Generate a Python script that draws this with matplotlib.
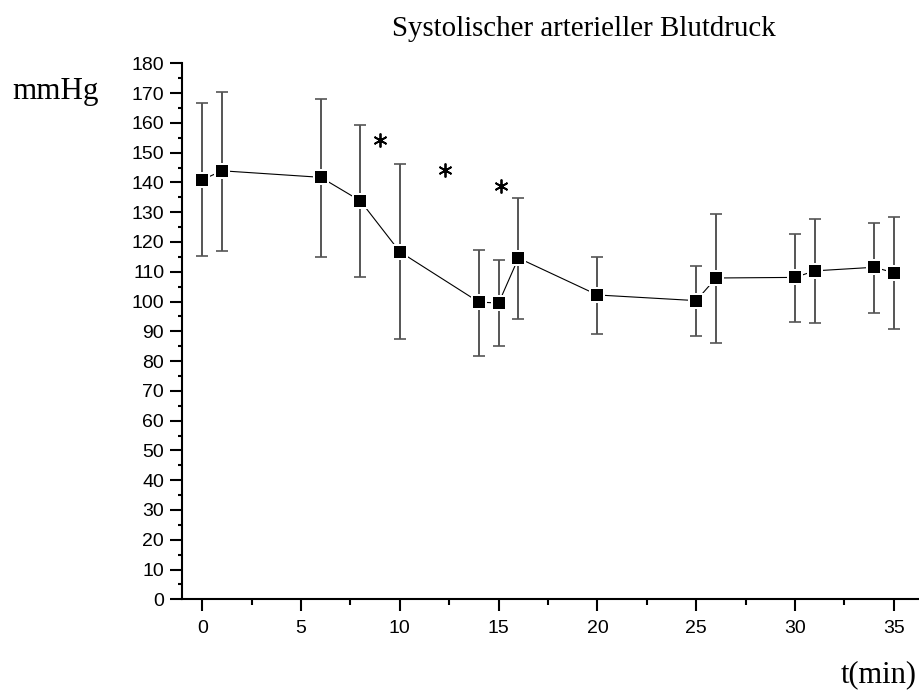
import matplotlib
matplotlib.use('Agg')
import matplotlib.pyplot as plt
from matplotlib.ticker import MultipleLocator

# Systolic arterial blood pressure over time (mean +/- SD)
t_min = [0, 1, 6, 8, 10, 14, 15, 16, 20, 25, 26, 30, 31, 34, 35]
mean_mmhg = [140.9, 143.9, 141.7, 133.8, 116.7, 99.8, 99.5, 114.6,
             102.2, 100.3, 107.9, 108.1, 110.3, 111.5, 109.7]
upper_mmhg = [166.6, 170.4, 168.1, 159.3, 146.3, 117.4, 113.8, 134.7,
              114.9, 111.9, 129.4, 122.7, 127.6, 126.5, 128.3]
lower_mmhg = [115.2, 117.0, 115.0, 108.1, 87.4, 81.7, 85.0, 94.1,
              89.1, 88.4, 86.2, 93.0, 92.8, 96.2, 90.7]

# significance marks
star_t = [9.0, 12.3, 15.1]
star_y = [154.2, 144.2, 138.9]

err_lo = [m - l for m, l in zip(mean_mmhg, lower_mmhg)]
err_hi = [u - m for u, m in zip(upper_mmhg, mean_mmhg)]

fig = plt.figure(figsize=(9.19, 6.9), dpi=100)
ax = fig.add_axes([0.1984, 0.1314, 0.800, 0.7769])

ax.errorbar(t_min, mean_mmhg, yerr=[err_lo, err_hi], fmt='none',
            ecolor='#555555', elinewidth=1.4, capsize=4.3, capthick=1.2,
            zorder=2)
ax.plot(t_min, mean_mmhg, color='black', lw=0.8, zorder=3)
ax.plot(t_min, mean_mmhg, 's', color='white', ms=11, mew=0, zorder=4)
ax.plot(t_min, mean_mmhg, 's', color='black', ms=8.3, mew=0, zorder=5)
ax.plot(star_t, star_y, ls='none', marker=(6, 2, 0), color='black',
        ms=10, mew=1.3, zorder=5)

ax.set_xlim(-1.01, 36.2)
ax.set_ylim(0, 180)
ax.set_yticks(range(0, 181, 10))
ax.set_xticks(range(0, 36, 5))
ax.xaxis.set_minor_locator(MultipleLocator(2.5))
ax.yaxis.set_minor_locator(MultipleLocator(5))

for s in ['top', 'right']:
    ax.spines[s].set_visible(False)
for s in ['left', 'bottom']:
    ax.spines[s].set_linewidth(1.5)

ax.tick_params(axis='both', which='major', direction='out', length=8.6,
               width=1.5, labelsize=14)
ax.tick_params(axis='y', which='major', pad=4.5)
ax.tick_params(axis='x', which='major', pad=6.5)
ax.tick_params(axis='x', which='minor', direction='out', length=4, width=1.5)
ax.tick_params(axis='y', which='minor', direction='out', length=3, width=1.5)
for lab in ax.get_xticklabels() + ax.get_yticklabels():
    lab.set_fontfamily('Liberation Sans')

fig.text(0.6355, 0.9478, 'Systolischer arterieller Blutdruck',
         family='Liberation Serif', fontsize=20.8, ha='center', va='baseline')
fig.text(0.013, 0.8565, 'mmHg', family='Liberation Serif', fontsize=22.3,
         ha='left', va='baseline')
fig.text(0.9978, 0.0116, 't(min)', family='Liberation Serif', fontsize=22,
         ha='right', va='baseline')

fig.savefig('out.png', dpi=100)
